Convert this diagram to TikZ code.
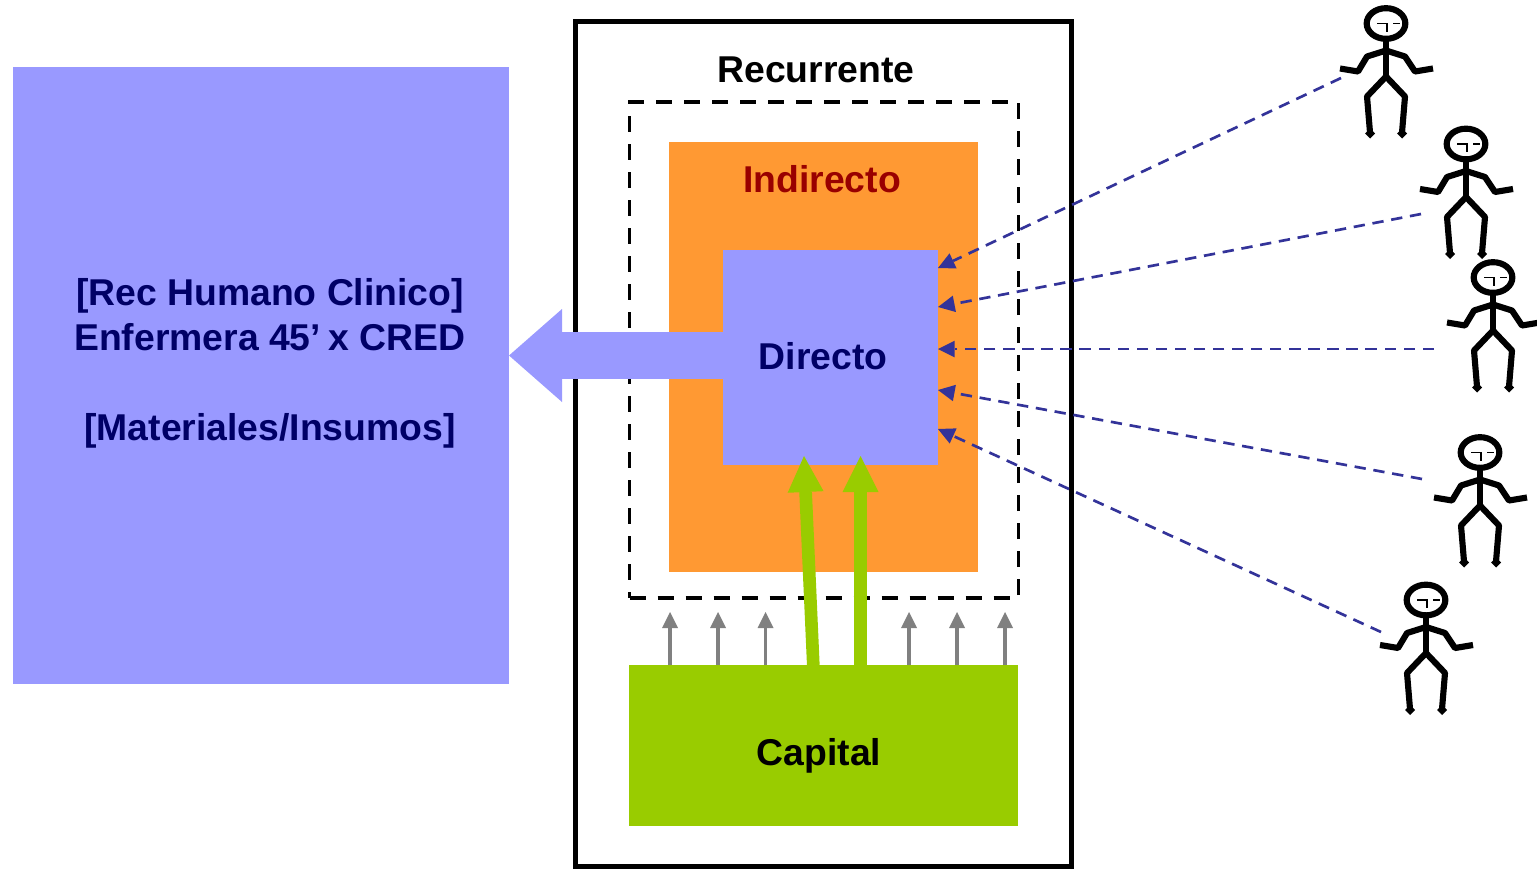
\documentclass[tikz,border=0pt]{standalone}
\usepackage{fontspec}
\setmainfont{Liberation Sans}
\usetikzlibrary{arrows.meta}
\definecolor{bluebox}{HTML}{9999FF}
\definecolor{orangebox}{HTML}{FF9933}
\definecolor{greenbox}{HTML}{99CC00}
\definecolor{navytext}{HTML}{000066}
\definecolor{redtext}{HTML}{990000}
\definecolor{linkblue}{HTML}{333399}
\definecolor{upgray}{HTML}{808080}
\tikzset{
  x=0.75pt,y=-0.75pt,
  region/.style={rectangle,inner sep=0pt,outer sep=0pt},
  caption/.style={font=\fontsize{28}{33.75}\selectfont\bfseries,inner sep=0pt,align=center},
  dashedframe/.style={line width=2.9pt,dash pattern=on 12pt off 9pt},
  thick link/.style={draw=greenbox,line width=9.5pt,-{Triangle[length=27pt,width=27pt,line width=0pt,fill=greenbox]}},
  gray link/.style={draw=upgray,line width=2.4pt,-{Triangle[length=12pt,width=12pt,line width=0pt,fill=upgray]}},
  blue link/.style={draw=linkblue,line width=2pt,dash pattern=on 8.5pt off 5.8pt,-{Triangle[length=12.5pt,width=12.5pt,line width=0pt,fill=linkblue]}},
  main link/.style={draw=bluebox,line width=35.25pt,-{Triangle[length=39.75pt,width=69.75pt,line width=0pt,fill=bluebox]}},
  person/.pic={
    \draw[line width=4.6pt] (0,0) ellipse [x radius=14.5pt,y radius=11.5pt];
    \draw[line width=4.6pt] (0,15) -- (0,53);
    \draw[line width=4.6pt,line join=round] (-46,45) -- (-28,48) -- (-19,33) -- (0,27) -- (19,33) -- (29,48) -- (47,45);
    \draw[line width=4.6pt,line join=round] (-16,109) -- (-19,73) -- (0,53) -- (19,73) -- (16,109);
    \draw[line width=1.3pt] (-9,0) -- (1,0) -- (1,8);
    \draw[line width=1.3pt] (7,0) -- (14,0);
    \fill (-16,105) -- (-11,110) -- (-16,115) -- (-21,110) -- cycle;
    \fill (16,105) -- (21,110) -- (16,115) -- (11,110) -- cycle;
  }
}
\begin{document}
\begin{tikzpicture}
\useasboundingbox (0,0) rectangle (1537,872);
% regions
\node[region,fill=bluebox,minimum width=372pt,minimum height=462.75pt] (rh) at (261,375.5) {};
\node[region,draw=black,line width=3.75pt,minimum width=372pt,minimum height=633.75pt] (rec) at (823.5,443.5) {};
\node[region,fill=orangebox,minimum width=231.75pt,minimum height=322.5pt] (ind) at (823.5,357) {};
\node[region,minimum width=291.75pt,minimum height=372pt] (frame) at (824,350) {};
\draw[dashedframe] (frame.south west) -- (frame.south east) -- (frame.north east) -- (frame.north west) -- cycle;
\node[region,fill=bluebox,minimum width=161.25pt,minimum height=161.25pt] (dir) at (830.5,357.5) {};
\node[region,fill=greenbox,minimum width=291.75pt,minimum height=120.75pt] (cap) at (823.5,745.5) {};
% texts
\node[caption] (t0) at (816,70) {Recurrente};
\node[caption,text=redtext] (t1) at (822,179) {Indirecto};
\node[caption,text=navytext] (t2) at (823,356) {Directo};
\node[caption] (t3) at (819,755.5) {Capital};
\node[caption,text=navytext] (t4) at (270,363) {[Rec Humano Clinico]\\Enfermera 45’\kern-2pt{} x CRED\\[33.75pt][Materiales/Insumos]};
% main arrow
\coordinate (m0) at (dir.west |- 0,355.5);
\coordinate (m1) at (rh.east |- 0,355.5);
\draw[main link] (m0) -- (m1);
% gray arrows
\foreach \n/\xx in {a/670,b/718,c/765.5,d/909,e/957,f/1005}{
  \coordinate (g\n) at (\xx,665);
  \coordinate (h\n) at (\xx,612);
  \draw[gray link] (g\n) -- (h\n);
}
% green arrows
\coordinate (g1) at (813.3,665);
\coordinate (h1) at (804,456);
\coordinate (g2) at (860.5,665);
\coordinate (h2) at (860.5,456);
\draw[thick link] (g1) -- (h1);
\draw[thick link] (g2) -- (h2);
% people
\pic at (1386,23.5) {person};
\pic at (1466,144) {person};
\pic at (1493,277.5) {person};
\pic at (1480,452.5) {person};
\pic at (1426,600) {person};
% dashed links
\coordinate (s1) at (1341,78);
\coordinate (s2) at (1421,214);
\coordinate (s3) at (1434,349);
\coordinate (s4) at (1422,479);
\coordinate (s5) at (1381,632);
\coordinate (e1) at (dir.east |- 0,268);
\coordinate (e2) at (dir.east |- 0,307);
\coordinate (e3) at (dir.east |- 0,349);
\coordinate (e4) at (dir.east |- 0,390);
\coordinate (e5) at (dir.east |- 0,429);
\foreach \i in {1,...,5}{ \draw[blue link] (s\i) -- (e\i); }
\end{tikzpicture}
\end{document}
